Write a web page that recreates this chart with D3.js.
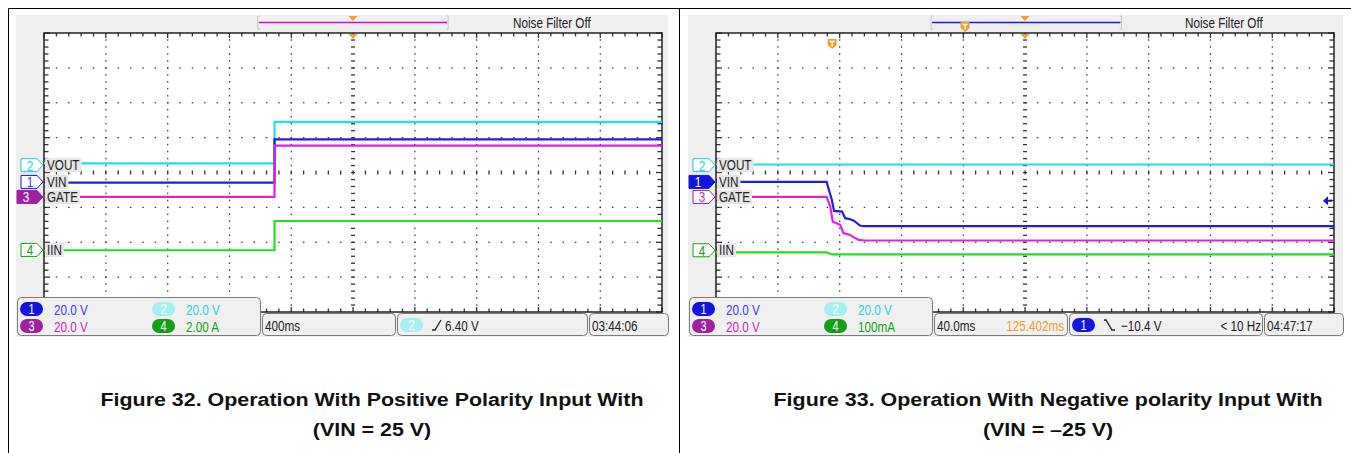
<!DOCTYPE html>
<html lang='en'>
<head>
<meta charset='utf-8'>
<script src='https://d3js.org/d3.v7.min.js'></script>
<style>
	body { margin:0; background:#fff; }
	svg { display:block; }
	.scope-text { font-family:'Liberation Sans', Arial, sans-serif; }
	.caption { font-family:'Liberation Sans', Arial, sans-serif; font-weight:bold; font-size:18px; fill:#111; }
</style>
</head>
<body>
<div id='chart'></div>
<script>
// every per-channel list below is in channel order 1, 2, 3, 4
var chNumbers = ['1', '2', '3', '4'];
var chNames = ['VIN', 'VOUT', 'GATE', 'IIN'];

// Figure 32 : traces as [time (div), level (div)]
var posVin  = [[0, -0.29], [3.73, -0.29], [3.73, 0.95], [10, 0.95]];
var posVout = [[0, 0.26], [3.73, 0.26], [3.73, 1.45], [10, 1.45]];
var posGate = [[0, -0.70], [3.73, -0.70], [3.73, 0.77], [10, 0.77]];
var posIin  = [[0, -2.23], [3.73, -2.23], [3.73, -1.39], [10, -1.39]];
var posOffsets = [-0.27, 0.21, -0.70, -2.22];
var posVolts = ['20.0 V', '20.0 V', '20.0 V', '2.00 A'];
var posStatus = ['400ms', '', '6.40 V', '', '03:44:06'];   // time/div, delay, trig level, freq, clock

// Figure 33
var negVin  = [[0, -0.27], [1.79, -0.27], [1.875, -0.79], [1.91, -1.10], [2.04, -1.12], [2.09, -1.31],
               [2.17, -1.34], [2.23, -1.38], [2.33, -1.52], [2.38, -1.54], [10, -1.54]];
var negVout = [[0, 0.23], [10, 0.23]];
var negGate = [[0, -0.70], [1.79, -0.70], [1.85, -0.98], [1.89, -1.41], [2.01, -1.50], [2.06, -1.74],
               [2.17, -1.79], [2.23, -1.86], [2.31, -1.93], [2.42, -1.95], [10, -1.95]];
var negIin  = [[0, -2.29], [1.79, -2.29], [1.875, -2.35], [10, -2.35]];
var negOffsets = [-0.27, 0.21, -0.70, -2.23];
var negVolts = ['20.0 V', '20.0 V', '20.0 V', '100mA'];
var negStatus = ['40.0ms', '125.402ms', '\u221210.4 V', '< 10 Hz', '04:47:17'];

var captions = [
	['Figure 32. Operation With Positive Polarity Input With', '(VIN = 25 V)'],
	['Figure 33. Operation With Negative polarity Input With', '(VIN = \u201325 V)']
];

// styles
var traceColor = ['#2020dc', '#1ee0e6', '#e020e0', '#20e020'];
var labelColor = ['#3a3aff', '#22d4e2', '#c82cc8', '#14a014'];
var pillColor  = ['#1414e0', '#a6eef2', '#a01ea0', '#14a014'];
var orange = '#f0a030';
var condense = 0.78;

var width = 1351, height = 453;

var svg = d3.select('#chart').append('svg')
	.attr('width', width)
	.attr('height', height);

function ctext(g, x, y, str, size, color, anchor) {
	return g.append('text')
		.attr('class', 'scope-text')
		.attr('transform', 'translate(' + x + ',' + y + ') scale(' + condense + ',1)')
		.attr('font-size', size)
		.attr('text-anchor', anchor || 'start')
		.style('fill', color)
		.text(str);
}

function pill(g, x, y, ch) {
	g.append('rect')
		.attr('x', x).attr('y', y)
		.attr('width', 23).attr('height', 14)
		.attr('rx', 7)
		.style('fill', pillColor[ch]);
	ctext(g, x + 11.5, y + 12, chNumbers[ch], 14, '#fff', 'middle');
}

function shield(g, cx, top) {
	g.append('path')
		.attr('d', 'M' + (cx - 4.5) + ',' + top + 'h9v6l-4.5,4l-4.5,-4z')
		.style('fill', orange);
	g.append('path')
		.attr('d', 'M' + (cx - 2.5) + ',' + (top + 2.5) + 'h5M' + cx + ',' + (top + 2.5) + 'v5')
		.style('stroke', '#fff').style('stroke-width', 1.3);
}

function drawScope(px, cfg) {
	var g = svg.append('g');

	var gx0 = px + 44, gx1 = px + 662, gy0 = 33, gy1 = 312;
	var x = d3.scaleLinear().domain([0, 10]).range([gx0, gx1]);
	var y = d3.scaleLinear().domain([-4, 4]).range([gy1, gy0]);

	// panel background
	g.append('rect')
		.attr('x', px + 16).attr('y', 15)
		.attr('width', 652 + cfg.extra).attr('height', 322)
		.style('fill', '#efefef');

	g.append('rect')
		.attr('x', gx0).attr('y', gy0)
		.attr('width', gx1 - gx0).attr('height', gy1 - gy0)
		.style('fill', '#fff');

	var minorX = d3.range(0, 50.5, 1).map(function(i) { return i / 5; });
	var minorY = d3.range(-20, 20.5, 1).map(function(i) { return i / 5; });
	var grid = g.append('g').style('fill', '#333');

	// dotted major lines
	[1, 2, 3, 4, 6, 7, 8, 9].forEach(function(t) {
		grid.selectAll(null)
			.data(minorY.slice(1, -1))
			.enter().append('rect')
			.attr('x', x(t) - 0.5).attr('y', function(d) { return y(d) - 0.75; })
			.attr('width', 1.2).attr('height', 1.5);
	});
	[-3, -2, -1, 1, 2, 3].forEach(function(v) {
		grid.selectAll(null)
			.data(minorX.slice(1, -1))
			.enter().append('rect')
			.attr('x', function(d) { return x(d) - 0.6; }).attr('y', y(v) - 0.6)
			.attr('width', 1.5).attr('height', 1.2);
	});

	// centre axes
	grid.selectAll(null).data(minorY.slice(1, -1)).enter().append('rect')
		.attr('x', x(5) - 2).attr('y', function(d) { return y(d) - 0.6; })
		.attr('width', 4).attr('height', 1.3);
	grid.selectAll(null).data(minorX.slice(1, -1)).enter().append('rect')
		.attr('x', function(d) { return x(d) - 0.6; }).attr('y', y(0) - 2)
		.attr('width', 1.3).attr('height', 4);

	// edge ticks
	function isMajor(d) { return Math.abs(d - Math.round(d)) < 1e-6; }
	grid.selectAll(null).data(minorX).enter().append('rect')
		.attr('x', function(d) { return x(d) - 0.6; }).attr('y', gy0)
		.attr('width', 1.3).attr('height', function(d) { return isMajor(d) ? 5 : 3.5; });
	grid.selectAll(null).data(minorX).enter().append('rect')
		.attr('x', function(d) { return x(d) - 0.6; })
		.attr('y', function(d) { return gy1 - (isMajor(d) ? 5 : 3.5); })
		.attr('width', 1.3).attr('height', function(d) { return isMajor(d) ? 5 : 3.5; });
	grid.selectAll(null).data(minorY).enter().append('rect')
		.attr('x', gx0).attr('y', function(d) { return y(d) - 0.6; })
		.attr('height', 1.3).attr('width', function(d) { return isMajor(d) ? 6 : 4.5; });
	grid.selectAll(null).data(minorY).enter().append('rect')
		.attr('x', function(d) { return gx1 - (isMajor(d) ? 6 : 4.5); })
		.attr('y', function(d) { return y(d) - 0.6; })
		.attr('height', 1.3).attr('width', function(d) { return isMajor(d) ? 6 : 4.5; });

	g.append('rect')
		.attr('x', gx0).attr('y', gy0)
		.attr('width', gx1 - gx0).attr('height', gy1 - gy0)
		.style('fill', 'none').style('stroke', '#222').style('stroke-width', 1.5);

	// traces
	var line = d3.line()
		.x(function(d) { return x(d[0]); })
		.y(function(d) { return y(d[1]); });
	[1, 0, 2, 3].forEach(function(ch) {
		g.append('path')
			.attr('d', line(cfg.traces[ch]))
			.style('fill', 'none')
			.style('stroke', traceColor[ch])
			.style('stroke-width', 2.2);
	});

	// channel labels and ground markers
	[3, 2, 0, 1].forEach(function(ch) {
		var cy = y(cfg.offsets[ch]);
		var t = ctext(g, gx0 + 3, cy + 5, chNames[ch], 15, '#222');
		var w = t.node().getComputedTextLength() * condense;
		g.insert('rect', function() { return t.node(); })
			.attr('x', gx0 + 1).attr('y', cy - 7)
			.attr('width', w + 4).attr('height', 14)
			.style('fill', '#e6e6e6');
	});
	[3, 2, 0, 1].forEach(function(ch) {
		var cy = y(cfg.offsets[ch]);
		var sel = ch === cfg.selected;
		var x0 = gx0 - (sel ? 27 : 23), tip = gx0 - 1;
		g.append('path')
			.attr('d', 'M' + x0 + ',' + (cy - 6.5) + 'H' + (tip - 6) + 'L' + tip + ',' + cy +
				'L' + (tip - 6) + ',' + (cy + 6.5) + 'H' + x0 + 'Z')
			.style('fill', sel ? pillColor[ch] : '#fff')
			.style('stroke', sel ? pillColor[ch] : ch === 1 ? '#22c8d8' : pillColor[ch])
			.style('stroke-width', 1);
		ctext(g, x0 + 9, cy + 5.5, chNumbers[ch], 15, sel ? '#fff' : labelColor[ch], 'middle');
	});

	if (cfg.levelMarker !== null) {
		var ly = y(cfg.levelMarker);
		g.append('path')
			.attr('d', 'M' + (gx1 - 11) + ',' + ly + 'l5,-4.5v9z')
			.style('fill', pillColor[0]);
		g.append('path')
			.attr('d', 'M' + (gx1 - 7) + ',' + ly + 'H' + (gx1 - 2))
			.style('stroke', pillColor[0]).style('stroke-width', 2);
	}

	// top record bar
	var bar0 = x(cfg.bar[0]), bar1 = x(cfg.bar[1]);
	g.append('path')
		.attr('d', 'M' + (bar0 + 2) + ',16H' + bar0 + 'V29H' + (bar0 + 2) +
			'M' + (bar1 - 2) + ',16H' + bar1 + 'V29H' + (bar1 - 2))
		.style('fill', 'none').style('stroke', '#c8c8c8');
	g.append('line')
		.attr('x1', bar0 + 1).attr('x2', bar1 - 1)
		.attr('y1', 22.5).attr('y2', 22.5)
		.style('stroke', cfg.barColor).style('stroke-width', 1.5);
	g.append('path')
		.attr('d', 'M' + (x(5) - 4.5) + ',16h9l-4.5,5z')
		.style('fill', orange);
	g.append('path')
		.attr('d', 'M' + (x(5) - 4.5) + ',' + (gy0 + 1) + 'h9l-4.5,5z')
		.style('fill', orange);
	cfg.shields.forEach(function(s) { shield(g, x(s[0]), s[1]); });

	ctext(g, px + 513, 28, 'Noise Filter Off', 15, '#222');

	// status boxes
	var box = g.append('g');
	function frame(x0, x1, y0) {
		box.append('rect')
			.attr('x', x0 + 0.5).attr('y', y0 + 0.5)
			.attr('width', x1 - x0).attr('height', 335 - y0)
			.attr('rx', 4)
			.style('fill', '#f0f0f0').style('stroke', '#7a7a7a');
	}
	frame(px + 17, px + 260, 297);
	frame(px + 262, px + 395, 313);
	frame(px + 397, px + 587 + cfg.extra, 313);
	frame(px + 589 + cfg.extra, px + 668 + cfg.extra, 313);

	var cols = [[px + 20, px + 54], [px + 152, px + 186]];
	[[0, 0, 0], [1, 1, 0], [2, 0, 1], [3, 1, 1]].forEach(function(c) {
		var ch = c[0], col = cols[c[1]], top = c[2] ? 319 : 302;
		pill(box, col[0], top, ch);
		ctext(box, col[1], top + 12.5, cfg.volts[ch], 15, labelColor[ch]);
	});

	ctext(box, px + 265, 331, cfg.status[0], 15, '#222');
	if (cfg.status[1]) ctext(box, px + 392, 331, cfg.status[1], 15, orange, 'end');

	pill(box, px + 400, 318, cfg.trigCh);
	var ex = px + 432, ey = 330;
	box.append('path')
		.attr('d', cfg.rising ?
			'M' + ex + ',' + ey + 'h3l6,-10' :
			'M' + ex + ',' + (ey - 10) + 'h2l6,10h3')
		.style('fill', 'none').style('stroke', '#222').style('stroke-width', 1.3);
	ctext(box, px + (cfg.rising ? 445 : 449), 331, cfg.status[2], 15, '#222');
	if (cfg.status[3]) ctext(box, px + 586 + cfg.extra, 331, cfg.status[3], 15, '#222', 'end');

	ctext(box, px + 592 + cfg.extra, 331, cfg.status[4], 15, '#222');
}

drawScope(0, {
	traces: [posVin, posVout, posGate, posIin],
	offsets: posOffsets,
	volts: posVolts,
	status: posStatus,
	selected: 2,
	trigCh: 1,
	rising: true,
	levelMarker: null,
	bar: [3.46, 6.54],
	barColor: '#c010c0',
	shields: [],
	extra: 0
});

drawScope(672, {
	traces: [negVin, negVout, negGate, negIin],
	offsets: negOffsets,
	volts: negVolts,
	status: negStatus,
	selected: 0,
	trigCh: 0,
	rising: false,
	levelMarker: -0.81,
	bar: [3.48, 6.56],
	barColor: '#1a1ae0',
	shields: [[1.88, 39], [4.03, 22]],
	extra: 3
});

// outer frame and divider
svg.append('path')
	.attr('d', 'M8.5,' + height + 'V8.5H' + width + 'M679.5,8.5V' + height)
	.style('fill', 'none').style('stroke', '#000').style('stroke-width', 1);

// captions (the source figure's caption face runs wider than Arial bold)
[372, 1048].forEach(function(cx, i) {
	[406, 436].forEach(function(by, j) {
		svg.append('text').attr('class', 'caption')
			.attr('transform', 'translate(' + cx + ',' + by + ') scale(1.19,1)')
			.attr('text-anchor', 'middle')
			.text(captions[i][j]);
	});
});
</script>
</body>
</html>
